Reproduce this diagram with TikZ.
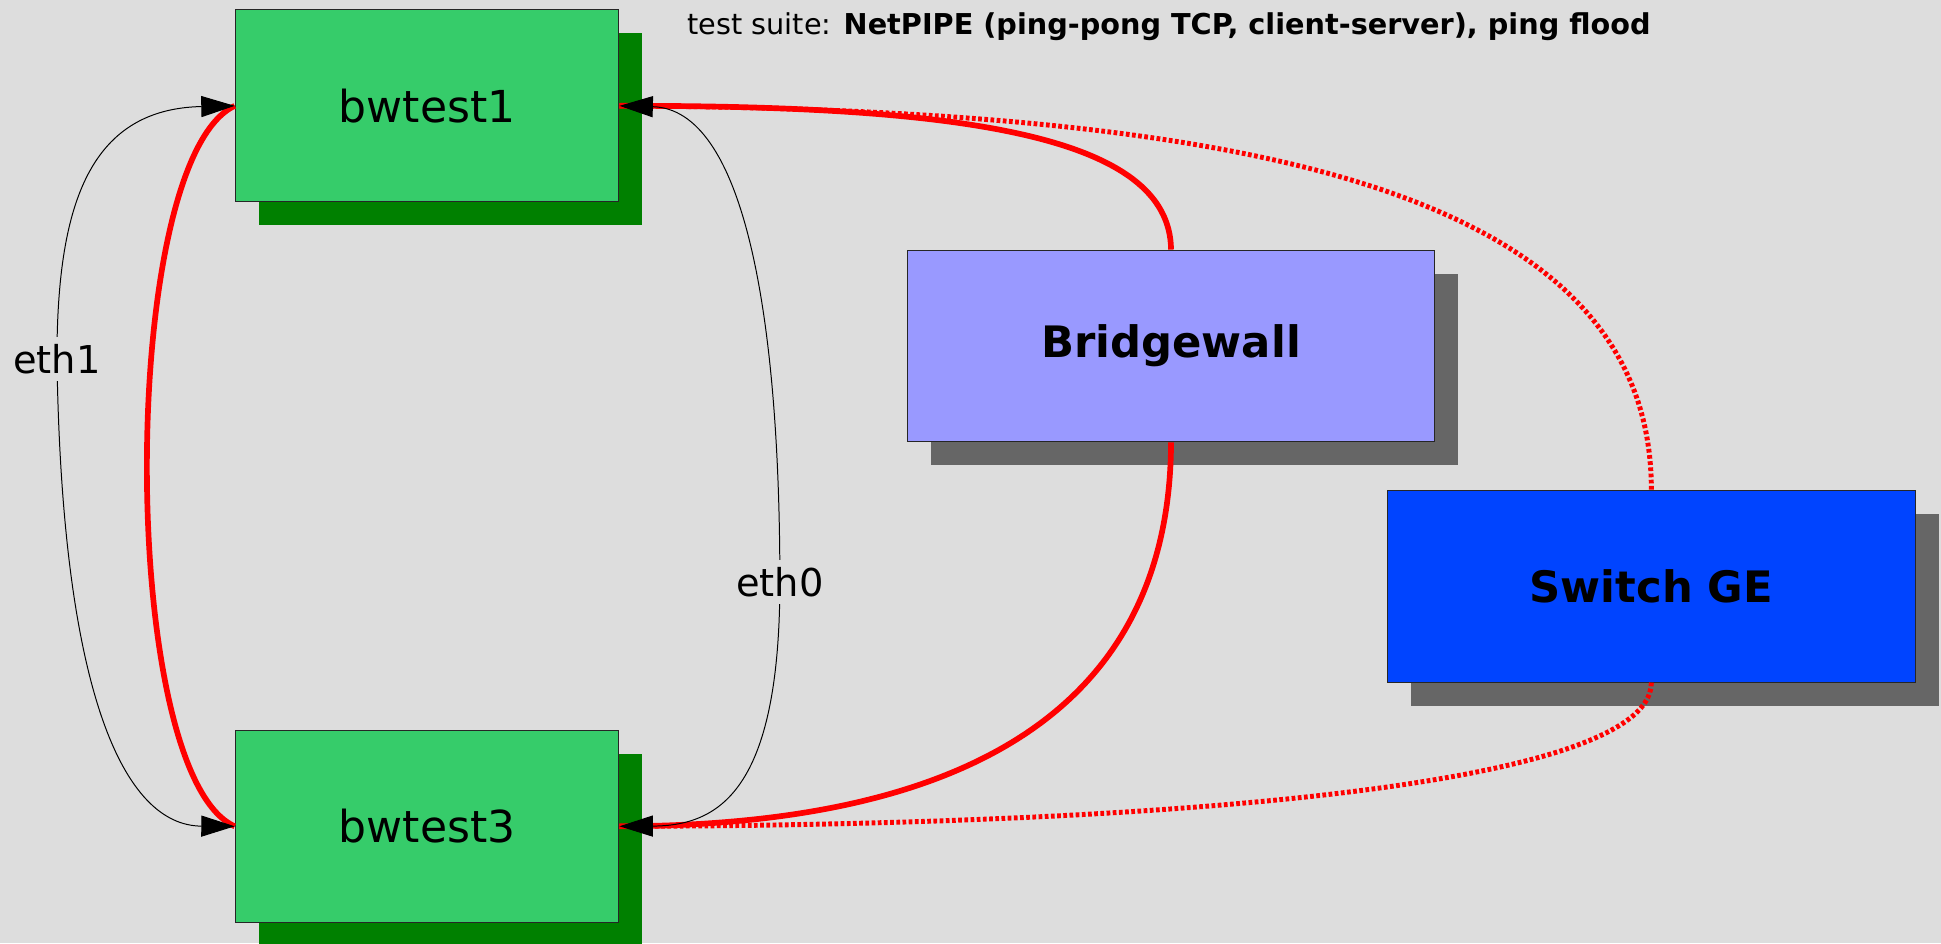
\documentclass[tikz,border=0pt]{standalone}
\usepackage{fontspec}
\setmainfont{DejaVu Sans}
\usetikzlibrary{arrows.meta,shadows}
\definecolor{bg}{HTML}{DDDDDD}
\definecolor{hostgreen}{HTML}{36CC6A}
\definecolor{hostshadow}{HTML}{008000}
\definecolor{bwfill}{HTML}{9999FF}
\definecolor{swfill}{HTML}{0044FF}
\definecolor{grayshadow}{HTML}{666666}
\definecolor{linkred}{HTML}{FF0000}
\begin{document}
\begin{tikzpicture}[x=0.5pt,y=-0.5pt,
  box/.style={draw=black!85, line width=0.4pt, inner sep=0pt, minimum height=77.5pt},
  host/.style={box, fill=hostgreen, minimum width=155pt,
    drop shadow={shadow xshift=9.5pt, shadow yshift=-9.5pt, opacity=1, fill=hostshadow},
    font=\fontsize{17.8}{20}\selectfont},
  gear/.style={box, minimum width=213pt,
    drop shadow={shadow xshift=9.5pt, shadow yshift=-9.5pt, opacity=1, fill=grayshadow},
    font=\fontsize{17.5}{20}\selectfont\bfseries},
  redlink/.style={draw=linkred, line width=2.3pt},
  reddot/.style={draw=linkred, line width=2pt, dash pattern=on 1.5pt off 1pt},
  ethlink/.style={draw=black, line width=0.4pt, {Triangle[length=13.5pt,width=8.5pt]}-{Triangle[length=13.5pt,width=8.5pt]}},
  lbl/.style={fill=bg, inner sep=3pt, font=\fontsize{15.5}{18}\selectfont}
]
\fill[bg] (0,0) rectangle (1568,762);
\useasboundingbox (0,0) rectangle (1568,762);

\node[host] (b1) at (345,85.5) {bwtest1};
\node[host] (b3) at (345,667.5) {bwtest3};
\node[gear, fill=bwfill] (bw) at (946,279.5) {Bridgewall};
\node[gear, fill=swfill] (sw) at (1334,473.5) {Switch GE};

\node[anchor=base west, inner sep=0pt, font=\fontsize{11.6}{13}\selectfont] (title) at (555,28)
  {test suite: \textbf{NetPIPE (ping-pong TCP, client-server), ping flood}};

% red links
\draw[redlink] (b1.west) .. controls (95,130) and (95,625) .. (b3.west);
\draw[redlink] (b1.east) .. controls (780,85) and (945,110) .. (bw.north);
\draw[redlink] (bw.south) .. controls (945,620) and (700,667) .. (b3.east);
\draw[reddot] (b1.east) .. controls (1000,88) and (1334,150) .. (sw.north);
\draw[reddot] (sw.south) .. controls (1334,640) and (900,667) .. (b3.east);

% eth links
\coordinate (e1) at (46,290);
\coordinate (e0) at (630,470);
\draw[ethlink] (b1.west) .. controls (70,88) and (46,170) .. (e1) .. controls (50,560) and (100,667) .. (b3.west);
\draw[ethlink] (b1.east) .. controls (600,88) and (630,250) .. (e0) .. controls (630,640) and (580,667) .. (b3.east);
\node[lbl] (l1) at (e1) {eth1};
\node[lbl] (l0) at (e0) {eth0};
\end{tikzpicture}
\end{document}
